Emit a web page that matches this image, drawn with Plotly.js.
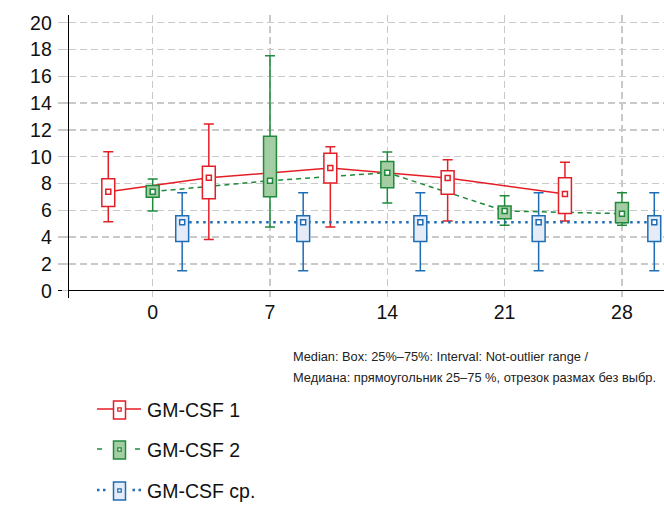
<!DOCTYPE html>
<html>
<head>
<meta charset="utf-8">
<script src="https://cdn.plot.ly/plotly-3.0.1.min.js"></script>
<style>html,body{margin:0;padding:0;background:#fff;}#chart{width:664px;height:505px;}</style>
</head>
<body>
<div id="chart"></div>
<script>
// ---- data ----
var seriesNames = ["GM-CSF 1", "GM-CSF 2", "GM-CSF ср."];
var dayTicks = [0, 7, 14, 21, 28];
var dayTickText = ["0", "7", "14", "21", "28"];
var yTickVals = [0, 2, 4, 6, 8, 10, 12, 14, 16, 18, 20];

var s1X      = [-2.65, 3.35, 10.6, 17.6, 24.6];
var s1Upper  = [10.37, 12.44, 10.75, 9.78, 9.58];
var s1Q3     = [8.36, 9.28, 10.25, 8.96, 8.43];
var s1Median = [7.39, 8.43, 9.15, 8.41, 7.21];
var s1Q1     = [6.29, 6.87, 8.03, 7.19, 5.77];
var s1Lower  = [5.15, 3.83, 4.75, 5.20, 5.20];

var s2X      = [0, 7, 14, 21, 28];
var s2Upper  = [8.33, 17.54, 10.35, 7.09, 7.31];
var s2Q3     = [7.86, 11.52, 9.65, 6.32, 6.59];
var s2Median = [7.39, 8.21, 8.81, 5.95, 5.75];
var s2Q1     = [6.97, 7.01, 7.69, 5.37, 5.07];
var s2Lower  = [5.95, 4.75, 6.54, 4.88, 4.88];

var s3X      = [1.76, 8.98, 15.97, 23.03, 29.93];
var s3Upper  = [7.31, 7.31, 7.31, 7.31, 7.31];
var s3Q3     = [5.60, 5.60, 5.60, 5.60, 5.60];
var s3Median = [5.10, 5.10, 5.10, 5.10, 5.10];
var s3Q1     = [3.68, 3.68, 3.68, 3.68, 3.68];
var s3Lower  = [1.49, 1.49, 1.49, 1.49, 1.49];

var captionLines = [
  "Median: Box: 25%–75%: Interval: Not-outlier range /",
  "Медиана: прямоугольник 25–75 %, отрезок размах без выбр."
];

// ---- styles ----
var RED = "#e41e26", GREEN = "#1f8a3b", BLUE = "#1e6db5";
var GREEN_FILL = "#a4cda4", BLUE_FILL = "#e5ebf7", RED_FILL = "#ffffff";
var GRID = "#c9c9c9";
var FONT = "'Liberation Sans', Arial, Helvetica, sans-serif";

var series = [
  {name: seriesNames[0], x: s1X, up: s1Upper, q3: s1Q3, med: s1Median, q1: s1Q1, lo: s1Lower,
   color: RED, fill: RED_FILL, dash: "solid", lw: 1.5, legDash: "solid"},
  {name: seriesNames[1], x: s2X, up: s2Upper, q3: s2Q3, med: s2Median, q1: s2Q1, lo: s2Lower,
   color: GREEN, fill: GREEN_FILL, dash: "5px,4px", lw: 1.5, legDash: "5px,33px"},
  {name: seriesNames[2], x: s3X, up: s3Upper, q3: s3Q3, med: s3Median, q1: s3Q1, lo: s3Lower,
   color: BLUE, fill: BLUE_FILL, dash: "2.5px,4.5px", lw: 2.5, legDash: "2.5px,3.5px,2.5px,27px"}
];

var BOXW = 0.77;
var traces = [];
// connecting lines + whiskers (bottom layer)
series.forEach(function (s) {
  traces.push({
    type: "scatter", mode: "lines", x: s.x, y: s.med, name: s.name, showlegend: false,
    line: {color: s.color, width: s.lw, dash: s.dash},
    error_y: {type: "data", symmetric: false,
      array: s.up.map(function (v, i) { return v - s.med[i]; }),
      arrayminus: s.lo.map(function (v, i) { return s.med[i] - v; }),
      color: s.color, thickness: 1.5, width: 5},
    xaxis: "x", yaxis: "y", hoverinfo: "skip"
  });
});
// boxes (overlay layer)
series.forEach(function (s) {
  traces.push({
    type: "bar", x: s.x, base: s.q1, y: s.q3.map(function (v, i) { return v - s.q1[i]; }),
    width: BOXW, name: s.name, showlegend: false,
    marker: {color: s.fill, line: {color: s.color, width: 1.5}},
    xaxis: "x2", yaxis: "y2", hoverinfo: "skip"
  });
});
// median markers
series.forEach(function (s) {
  traces.push({
    type: "scatter", mode: "markers", x: s.x, y: s.med, name: s.name, showlegend: false,
    marker: {symbol: "square", size: 5, color: "#ffffff", line: {color: s.color, width: 1.5}},
    xaxis: "x2", yaxis: "y2", hoverinfo: "skip"
  });
});

// ---- geometry helpers (pixel -> paper) ----
var L = 58, R = 0, T = 15, B = 207, W = 664, H = 505;
var PW = W - L - R, PH = H - T - B;
function px(xp) { return (xp - L) / PW; }
function py(yp) { return (H - B - yp) / PH; }

var XR = [-5.65, 30.51], YR = [-0.545, 20.575];

var shapes = [], annotations = [];
// manual legend
var legY = [409, 449, 490];
series.forEach(function (s, i) {
  var y = legY[i];
  shapes.push({type: "line", xref: "paper", yref: "paper", x0: px(97), x1: px(141), y0: py(y), y1: py(y),
    line: {color: s.color, width: s.lw, dash: s.legDash}});
  shapes.push({type: "rect", xref: "paper", yref: "paper", x0: px(113.5), x1: px(125.5), y0: py(y - 8), y1: py(y + 10),
    fillcolor: s.fill, line: {color: s.color, width: 1.5}});
  shapes.push({type: "rect", xref: "paper", yref: "paper", x0: px(117.8), x1: px(121.2), y0: py(y - 1.2), y1: py(y + 2.2),
    fillcolor: "#ffffff", line: {color: s.color, width: 1.3}});
  annotations.push({xref: "paper", yref: "paper", x: px(145), y: py(y + 1), xanchor: "left", yanchor: "middle",
    text: s.name, showarrow: false, font: {family: FONT, size: 19.5, color: "#111"}});
});
var capLen = [295, 363];
annotations.push({xref: "paper", yref: "paper", x: px(291), y: py(356.5), xanchor: "left", yanchor: "middle", align: "left",
  text: captionLines[0], showarrow: false, font: {family: FONT, size: 12.8, color: "#222"}});
annotations.push({xref: "paper", yref: "paper", x: px(291), y: py(377.5), xanchor: "left", yanchor: "middle", align: "left",
  text: captionLines[1], showarrow: false, font: {family: FONT, size: 12.8, color: "#222"}});

var layout = {
  width: W, height: H,
  margin: {l: L, r: R, t: T, b: B, pad: 0},
  paper_bgcolor: "#ffffff", plot_bgcolor: "#ffffff",
  showlegend: false, barmode: "overlay",
  font: {family: FONT, size: 19.5, color: "#111"},
  xaxis: {range: XR, tickmode: "array", tickvals: dayTicks, ticktext: dayTickText,
    showgrid: true, gridcolor: GRID, gridwidth: 1.3, griddash: "7px,4px",
    zeroline: false, showline: false, ticks: "", ticklabelstandoff: 0, fixedrange: true},
  yaxis: {range: YR, tickmode: "array", tickvals: yTickVals,
    showgrid: true, gridcolor: GRID, gridwidth: 1.3, griddash: "7px,4px",
    zeroline: true, zerolinecolor: "#000", zerolinewidth: 1.5,
    showline: true, linecolor: "#000", linewidth: 1.5,
    anchor: "free", position: px(67.7),
    ticks: "outside", ticklen: 6, tickcolor: GRID, tickwidth: 1.3, ticklabelstandoff: 6, fixedrange: true},
  xaxis2: {range: XR, overlaying: "x", anchor: "y2", visible: false, showgrid: false, zeroline: false, fixedrange: true},
  yaxis2: {range: YR, overlaying: "y", anchor: "x2", visible: false, showgrid: false, zeroline: false, fixedrange: true},
  shapes: shapes, annotations: annotations
};

Plotly.newPlot("chart", traces, layout, {staticPlot: true, displayModeBar: false}).then(function (gd) {
  // fit the caption lines to the widths measured on the reference (condensed face there)
  var texts = gd.querySelectorAll(".annotation-text");
  for (var k = 0; k < texts.length; k++) {
    var t = texts[k];
    var idx = captionLines.indexOf(t.textContent);
    if (idx >= 0) {
      t.setAttribute("textLength", capLen[idx]);
      t.setAttribute("lengthAdjust", "spacingAndGlyphs");
    }
  }
});
</script>
</body>
</html>
